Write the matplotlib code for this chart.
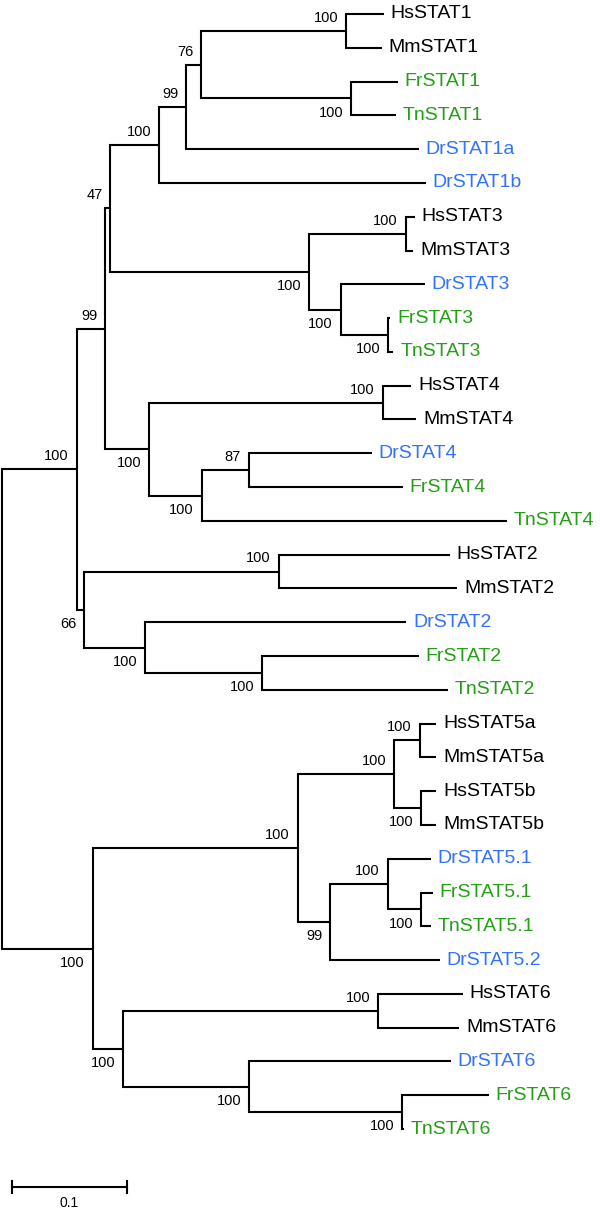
import matplotlib
matplotlib.use("Agg")
import matplotlib.pyplot as plt

plt.rcParams['font.family'] = ['Liberation Sans', 'DejaVu Sans']

# ---- data ----
leaf_names = ['HsSTAT1', 'MmSTAT1', 'FrSTAT1', 'TnSTAT1', 'DrSTAT1a', 'DrSTAT1b',
              'HsSTAT3', 'MmSTAT3', 'DrSTAT3', 'FrSTAT3', 'TnSTAT3',
              'HsSTAT4', 'MmSTAT4', 'DrSTAT4', 'FrSTAT4', 'TnSTAT4',
              'HsSTAT2', 'MmSTAT2', 'DrSTAT2', 'FrSTAT2', 'TnSTAT2',
              'HsSTAT5a', 'MmSTAT5a', 'HsSTAT5b', 'MmSTAT5b',
              'DrSTAT5.1', 'FrSTAT5.1', 'TnSTAT5.1', 'DrSTAT5.2',
              'HsSTAT6', 'MmSTAT6', 'DrSTAT6', 'FrSTAT6', 'TnSTAT6']
leaf_lengths = [0.0330, 0.0312, 0.0409, 0.0391, 0.2035, 0.2334,
                0.0077, 0.0066, 0.0737, 0.0017, 0.0044,
                0.0251, 0.0295, 0.1078, 0.1346, 0.2671,
                0.1497, 0.1563, 0.2283, 0.1372, 0.1630,
                0.0144, 0.0144, 0.0134, 0.0134,
                0.0374, 0.0101, 0.0083, 0.0964,
                0.0743, 0.0710, 0.1767, 0.0763, 0.0015]

node_names = ['n1', 'n2', 'n3', 'n4', 'n5', 'n6', 'n7', 'n8', 'n9', 'n10',
              'n11', 'n12', 'n13', 'n14', 'n15', 'n16', 'n17', 'n18', 'n19', 'n20',
              'n21', 'n22', 'n23', 'n24', 'n25', 'n26', 'n27', 'n28', 'n29', 'n30',
              'n31', 'n32', 'root']
node_children = [('HsSTAT1', 'MmSTAT1'), ('FrSTAT1', 'TnSTAT1'), ('n1', 'n2'),
                 ('n3', 'DrSTAT1a'), ('n4', 'DrSTAT1b'),
                 ('HsSTAT3', 'MmSTAT3'), ('FrSTAT3', 'TnSTAT3'), ('DrSTAT3', 'n7'),
                 ('n6', 'n8'), ('n5', 'n9'),
                 ('HsSTAT4', 'MmSTAT4'), ('DrSTAT4', 'FrSTAT4'), ('n12', 'TnSTAT4'),
                 ('n11', 'n13'), ('n10', 'n14'),
                 ('HsSTAT2', 'MmSTAT2'), ('FrSTAT2', 'TnSTAT2'), ('DrSTAT2', 'n17'),
                 ('n16', 'n18'), ('n15', 'n19'),
                 ('HsSTAT5a', 'MmSTAT5a'), ('HsSTAT5b', 'MmSTAT5b'), ('n21', 'n22'),
                 ('FrSTAT5.1', 'TnSTAT5.1'), ('DrSTAT5.1', 'n24'), ('n25', 'DrSTAT5.2'),
                 ('n23', 'n26'),
                 ('HsSTAT6', 'MmSTAT6'), ('FrSTAT6', 'TnSTAT6'), ('DrSTAT6', 'n29'),
                 ('n28', 'n30'), ('n27', 'n31'), ('n20', 'n32')]
node_lengths = [0.1272, 0.1316, 0.0127, 0.0241, 0.0425,
                0.0844, 0.0418, 0.0275, 0.1741, 0.0044,
                0.2042, 0.0412, 0.0458, 0.0386, 0.0251,
                0.1701, 0.1022, 0.0535, 0.0067, 0.0652,
                0.0224, 0.0234, 0.0844, 0.0291, 0.0506, 0.0282, 0.1794,
                0.2230, 0.1339, 0.1099, 0.0268, 0.0793, 0.0]
node_support = ['100', '100', '76', '99', '100',
                '100', '100', '100', '100', '47',
                '100', '87', '100', '100', '99',
                '100', '100', '100', '66', '100',
                '100', '100', '100', '100', '100', '99', '100',
                '100', '100', '100', '100', '100', '']
# label placement relative to node: 'a' above, 'b' below
support_side = ['a', 'b', 'a', 'a', 'a',
                'a', 'b', 'b', 'b', 'a',
                'a', 'a', 'b', 'b', 'a',
                'a', 'b', 'b', 'b', 'a',
                'a', 'b', 'a', 'b', 'a', 'b', 'a',
                'a', 'b', 'b', 'b', 'b', '']

scale_length = 0.1

prefix_colors = {'Hs': 'black', 'Mm': 'black', 'Dr': '#3273fa', 'Fr': '#22a014', 'Tn': '#22a014'}

# ---- build tree ----
length = dict(zip(leaf_names, leaf_lengths))
length.update(dict(zip(node_names, node_lengths)))
children = dict(zip(node_names, node_children))
parent = {}
for n, (a, b) in children.items():
    parent[a] = n
    parent[b] = n

ypos = {name: i for i, name in enumerate(leaf_names)}
xpos = {}


def get_x(n):
    if n in xpos:
        return xpos[n]
    if n not in parent:
        xpos[n] = 0.0
    else:
        xpos[n] = get_x(parent[n]) + length[n]
    return xpos[n]


for n in node_names:  # children defined before parents
    a, b = children[n]
    ypos[n] = (ypos[a] + ypos[b]) / 2.0
for n in list(leaf_names) + list(node_names):
    get_x(n)

# ---- figure ----
fig = plt.figure(figsize=(6.0, 12.11), dpi=100)
ax = fig.add_axes([0, 0, 1, 1])
px_per_unit = 1143.0
ax.set_xlim(-2 / px_per_unit, 598 / px_per_unit)
row = 33.79
ax.set_ylim((1211 - 14) / row, -14 / row)
ax.axis('off')

lw = 1.5
for n in node_names:
    a, b = children[n]
    xn = xpos[n]
    ax.plot([xpos[a], xn, xn, xpos[b]], [ypos[a], ypos[a], ypos[b], ypos[b]],
            color='black', lw=lw, solid_joinstyle='miter', solid_capstyle='butt')

for name in leaf_names:
    ax.annotate(name, (xpos[name], ypos[name]), xytext=(4.8, 0), textcoords='offset points',
                ha='left', va='center', fontsize=14, color=prefix_colors[name[:2]])

for n, lab, side in zip(node_names, node_support, support_side):
    if not lab:
        continue
    dy = 9.4 if side == 'a' else -10.2
    ax.annotate(lab, (xpos[n], ypos[n]), xytext=(-5.6, dy), textcoords='offset points',
                ha='right', va='center', fontsize=10.5, color='black')

# scale bar
sb_x0 = 0.009
sb_y = (1187 - 14) / row
tick = 0.18
ax.plot([sb_x0, sb_x0 + scale_length], [sb_y, sb_y], color='black', lw=lw)
for xx in (sb_x0, sb_x0 + scale_length):
    ax.plot([xx, xx], [sb_y - tick, sb_y + tick], color='black', lw=lw)
ax.annotate(f'{scale_length:g}', (sb_x0 + scale_length / 2, sb_y), xytext=(0, -11.5),
            textcoords='offset points', ha='center', va='center', fontsize=10)

fig.savefig('out.png', dpi=100)
